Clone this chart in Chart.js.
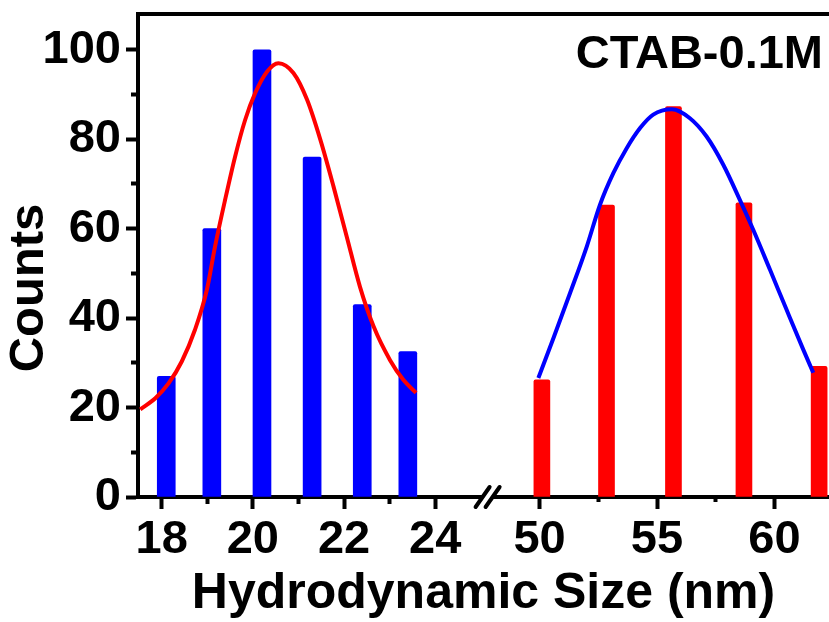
<!DOCTYPE html>
<html>
<head>
<meta charset="utf-8">
<script src="https://cdn.jsdelivr.net/npm/chart.js@4.4.1/dist/chart.umd.min.js"></script>
<style>
  html, body { margin: 0; padding: 0; background: #fff; }
  #wrap { width: 829px; height: 622px; }
</style>
</head>
<body>
<div id="wrap"><canvas id="dlsChart"></canvas></div>
<script>
// values
const smallSizes = [18.1, 19.1, 20.2, 21.3, 22.4, 23.4];
const smallCounts = [27, 60, 100, 76, 43, 32.5];
const smallFitX = [17.53, 17.86, 18.15, 18.44, 18.73, 18.99, 19.17, 19.39, 19.61, 19.83, 20.05, 20.31, 20.56,
                   20.89, 21.19, 21.48, 21.77, 22.06, 22.35, 22.65, 23.01, 23.3, 23.58];
const smallFitY = [19.6, 22.1, 25.4, 30.3, 37.4, 46.3, 56.0, 66.4, 76.1, 84.3, 90.3, 95.1, 97.0,
                   94.8, 88.8, 79.9, 69.4, 58.2, 47.0, 38.1, 30.6, 26.2, 23.3];

const largeSizes = [50.1, 52.85, 55.7, 58.7, 61.9];
const largeCounts = [26.2, 65.3, 87.3, 65.8, 29.2];
const largeFitX = [49.95, 50.59, 51.3, 52.01, 52.57, 53.14, 53.71, 54.28, 54.84, 55.63,
                   56.4, 57.11, 57.82, 58.53, 59.1, 59.81, 60.52, 61.23, 61.65];
const largeFitY = [26.6, 35.5, 45.6, 56.0, 65.3, 72.4, 78.0, 82.5, 85.5, 86.7,
                   84.7, 80.6, 74.3, 66.4, 59.7, 50.8, 41.8, 32.9, 27.8];

const yTicks = [0, 10, 20, 30, 40, 50, 60, 70, 80, 90, 100];
const leftTicks = [18, 19, 20, 21, 22, 23, 24];
const rightTicks = [50, 52.5, 55, 57.5, 60];

const FONT = "'Liberation Sans', Arial, sans-serif";

function pts(xs, ys) {
  return xs.map((x, i) => ({ x: x, y: ys[i] }));
}

// minor ticks are drawn shorter with a dash pattern
function tickDash(isMajor, fromAxis) {
  return function(c) {
    if (!c.tick || isMajor(c.tick.value)) return [];
    return fromAxis ? [5, 30] : [0, 5, 30];
  };
}

// no extra padding from tick labels, the frame sits where the layout says
function noPad(s) {
  s.paddingTop = 0;
  s.paddingBottom = 0;
  s.paddingLeft = 0;
  s.paddingRight = 0;
}

const decorations = {
  id: 'decorations',
  afterDraw(chart) {
    const ctx = chart.ctx;
    const a = chart.chartArea;
    ctx.save();
    ctx.strokeStyle = '#000';
    ctx.lineWidth = 4;
    // top frame
    ctx.beginPath();
    ctx.moveTo(a.left - 2, a.top);
    ctx.lineTo(a.right, a.top);
    ctx.stroke();
    // axis break //
    const bx = chart.scales.x.getPixelForValue(25.15);
    const by = a.bottom;
    ctx.fillStyle = '#fff';
    ctx.fillRect(bx - 5, by - 3, 10, 6);
    ctx.lineCap = 'round';
    [-5, 5].forEach(function(d) {
      ctx.beginPath();
      ctx.moveTo(bx + d - 7, by + 10);
      ctx.lineTo(bx + d + 7, by - 10);
      ctx.stroke();
    });
    // y title
    ctx.fillStyle = '#000';
    ctx.font = 'bold 49px ' + FONT;
    ctx.textAlign = 'center';
    ctx.textBaseline = 'middle';
    ctx.translate(29, 288);
    ctx.rotate(-Math.PI / 2);
    ctx.fillText('Counts', 0, 0);
    ctx.restore();
    // sample label
    ctx.save();
    ctx.fillStyle = '#000';
    ctx.font = 'bold 47px ' + FONT;
    ctx.textAlign = 'right';
    ctx.textBaseline = 'alphabetic';
    ctx.fillText('CTAB-0.1M', 823, 68);
    ctx.restore();
  }
};

const tickFont = { family: FONT, size: 47, weight: 'bold' };

new Chart(document.getElementById('dlsChart'), {
  type: 'bar',
  data: {
    datasets: [{
      type: 'line',
      label: 'fit small',
      data: pts(smallFitX, smallFitY),
      xAxisID: 'x',
      borderColor: '#ff0000',
      borderWidth: 4,
      pointRadius: 0,
      cubicInterpolationMode: 'monotone',
      fill: false
    }, {
      type: 'line',
      label: 'fit large',
      data: pts(largeFitX, largeFitY),
      xAxisID: 'x2',
      borderColor: '#0000ff',
      borderWidth: 4,
      pointRadius: 0,
      cubicInterpolationMode: 'monotone',
      fill: false
    }, {
      label: 'small',
      data: pts(smallSizes, smallCounts),
      xAxisID: 'x',
      grouped: false,
      backgroundColor: '#0000ff',
      barThickness: 18,
      borderRadius: { topLeft: 2, topRight: 2 },
      borderSkipped: 'bottom'
    }, {
      label: 'large',
      data: pts(largeSizes, largeCounts),
      xAxisID: 'x2',
      grouped: false,
      backgroundColor: '#ff0000',
      barThickness: 16,
      borderRadius: { topLeft: 2, topRight: 2 },
      borderSkipped: 'bottom'
    }]
  },
  options: {
    responsive: true,
    maintainAspectRatio: false,
    animation: false,
    layout: { padding: { top: 14, left: 0, right: 0, bottom: 0 } },
    plugins: {
      legend: { display: false },
      tooltip: { enabled: false }
    },
    scales: {
      y: {
        type: 'linear',
        min: 0,
        max: 108,
        afterBuildTicks: function(s) { s.ticks = yTicks.map(v => ({ value: v })); },
        afterFit: function(s) { s.width = 138; noPad(s); },
        border: { display: true, color: '#000', width: 4 },
        grid: {
          drawOnChartArea: false,
          drawTicks: true,
          tickLength: 12,
          tickWidth: 4,
          tickColor: '#000',
          tickBorderDash: tickDash(v => v % 20 === 0, false)
        },
        ticks: {
          autoSkip: false,
          color: '#000',
          font: tickFont,
          padding: 5,
          callback: v => (v % 20 === 0 ? v : '')
        }
      },
      x: {
        type: 'linear',
        position: 'bottom',
        weight: 1,
        offset: false,
        min: 17.48,
        max: 32.64,
        afterBuildTicks: function(s) { s.ticks = leftTicks.map(v => ({ value: v })); },
        afterFit: function(s) { s.height = 125; noPad(s); },
        border: { display: true, color: '#000', width: 4 },
        grid: {
          offset: false,
          drawOnChartArea: false,
          drawTicks: true,
          tickLength: 12,
          tickWidth: 4,
          tickColor: '#000',
          tickBorderDash: tickDash(v => v % 2 === 0, true)
        },
        ticks: {
          autoSkip: false,
          maxRotation: 0,
          color: '#000',
          font: tickFont,
          padding: 3,
          callback: v => (v % 2 === 0 ? v : '')
        },
        title: {
          display: true,
          text: 'Hydrodynamic Size (nm)',
          color: '#000',
          font: { family: FONT, size: 50, weight: 'bold', lineHeight: 1.1 },
          padding: { top: 0, bottom: 0 }
        }
      },
      x2: {
        type: 'linear',
        position: 'bottom',
        weight: 0,
        offset: false,
        min: 32.91,
        max: 62.32,
        afterBuildTicks: function(s) { s.ticks = rightTicks.map(v => ({ value: v })); },
        afterFit: function(s) {
          s.height = 0;
          noPad(s);
          // zero-height box: let its labels draw below it
          s._computeLabelArea = function() {
            return { top: this.top, left: 0, bottom: this.chart.height, right: this.chart.width };
          };
        },
        border: { display: false },
        grid: {
          offset: false,
          drawOnChartArea: false,
          drawTicks: true,
          tickLength: 12,
          tickWidth: 4,
          tickColor: '#000',
          tickBorderDash: tickDash(v => v % 5 === 0, true)
        },
        ticks: {
          autoSkip: false,
          maxRotation: 0,
          color: '#000',
          font: tickFont,
          padding: 3,
          callback: v => (v % 5 === 0 ? v : '')
        }
      }
    }
  },
  plugins: [decorations]
});
</script>
</body>
</html>
